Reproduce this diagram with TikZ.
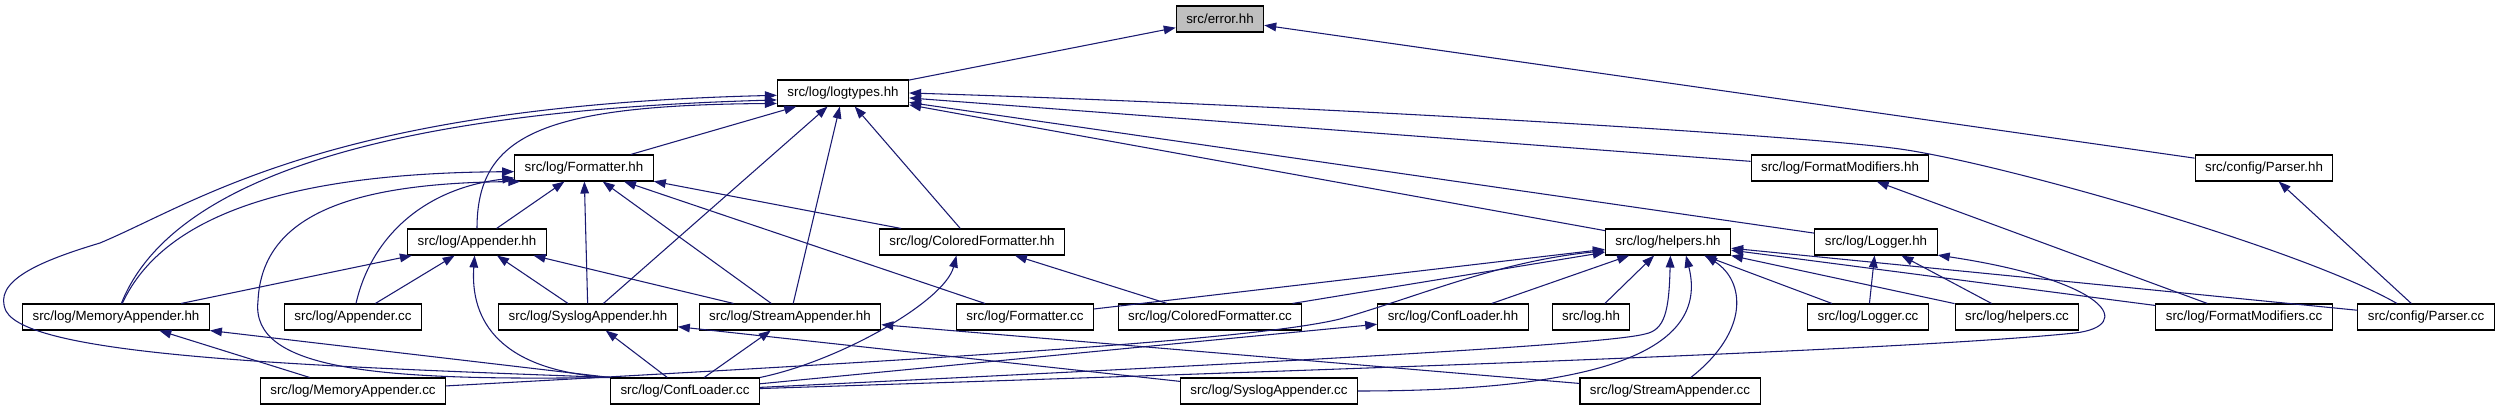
\documentclass[tikz,border=0pt]{standalone}
\usepackage{fontspec}
\setmainfont{Liberation Sans}
\usetikzlibrary{arrows.meta}

\definecolor{edgeblue}{HTML}{191970}
\definecolor{rootgray}{HTML}{BFBFBF}

\tikzset{
	file/.style={draw=black, line width=0.8pt, fill=white, minimum height=19.5pt,
		inner xsep=7.5pt, inner ysep=0pt, font=\fontsize{10pt}{12pt}\selectfont},
	root/.style={file, fill=rootgray},
	incl/.style={draw=edgeblue, line width=0.8pt, -{Triangle[length=9pt, width=6.5pt]}}
}

\begin{document}
\begin{tikzpicture}[x=0.75pt, y=0.75pt]
	\useasboundingbox (0,0) rectangle (2502,411);

	% Headers
	\node[root] (err)      at (1220, 392) {src/error.hh};
	\node[file] (logtypes) at (843, 318)  {src/log/logtypes.hh};
	\node[file] (fmtH)     at (584, 243)  {src/log/Formatter.hh};
	\node[file] (fmodH)    at (1840, 243) {src/log/FormatModifiers.hh};
	\node[file] (parserH)  at (2264, 243) {src/config/Parser.hh};
	\node[file] (appH)     at (477, 169)  {src/log/Appender.hh};
	\node[file] (cfmtH)    at (972, 169)  {src/log/ColoredFormatter.hh};
	\node[file] (helpH)    at (1668, 169) {src/log/helpers.hh};
	\node[file] (loggerH)  at (1876, 169) {src/log/Logger.hh};
	\node[file] (memH)     at (116, 94)   {src/log/MemoryAppender.hh};
	\node[file] (sysH)     at (588, 94)   {src/log/SyslogAppender.hh};
	\node[file] (strH)     at (790, 94)   {src/log/StreamAppender.hh};
	\node[file] (confH)    at (1453, 94)  {src/log/ConfLoader.hh};
	\node[file] (logH)     at (1591, 94)  {src/log.hh};

	% Sources
	\node[file] (appCC)    at (353, 94)   {src/log/Appender.cc};
	\node[file] (fmtCC)    at (1025, 94)  {src/log/Formatter.cc};
	\node[file] (cfmtCC)   at (1210, 94)  {src/log/ColoredFormatter.cc};
	\node[file] (loggerCC) at (1868, 94)  {src/log/Logger.cc};
	\node[file] (helpCC)   at (2017, 94)  {src/log/helpers.cc};
	\node[file] (fmodCC)   at (2244, 94)  {src/log/FormatModifiers.cc};
	\node[file] (parserCC) at (2426, 94)  {src/config/Parser.cc};
	\node[file] (memCC)    at (353, 20)   {src/log/MemoryAppender.cc};
	\node[file] (confCC)   at (685, 20)   {src/log/ConfLoader.cc};
	\node[file] (sysCC)    at (1269, 20)  {src/log/SyslogAppender.cc};
	\node[file] (strCC)    at (1670, 20)  {src/log/StreamAppender.cc};

	% Connections to error.hh
	\draw[incl] (logtypes) -- (err);
	\draw[incl] (parserH) -- (err);

	% Connections to logtypes.hh
	\draw[incl] (fmtH) -- (logtypes);
	\draw[incl] (appH) .. controls (477,275) and (540,306) .. (logtypes.189);
	\draw[incl] (memH) .. controls (170,230) and (380,300) .. (logtypes.186);
	\draw[incl] (confCC.north west) .. controls (300,45) and (30,55) .. (6,100)
		.. controls (-8,130) and (40,150) .. (100,168)
		.. controls (200,210) and (330,305) .. (logtypes.182);
	\draw[incl] (sysH) -- (logtypes);
	\draw[incl] (strH) -- (logtypes);
	\draw[incl] (cfmtH) -- (logtypes);
	\draw[incl] (helpH) -- (logtypes);
	\draw[incl] (loggerH) -- (logtypes);
	\draw[incl] (fmodH) -- (logtypes);
	\draw[incl] (parserCC.155) .. controls (2300,163) and (2000,248) .. (1900,262)
		.. controls (1800,276) and (1300,306) .. (logtypes.east);

	% Connections to Formatter.hh
	\draw[incl] (appH) -- (fmtH);
	\draw[incl] (memH) .. controls (165,200) and (300,238) .. (fmtH.183);
	\draw[incl] (appCC) .. controls (370,170) and (420,222) .. (fmtH.188);
	\draw[incl] (confCC.north west) .. controls (380,30) and (250,40) .. (258,110)
		.. controls (262,200) and (360,228) .. (fmtH.192);
	\draw[incl] (sysH) -- (fmtH);
	\draw[incl] (strH) -- (fmtH);
	\draw[incl] (fmtCC) -- (fmtH);
	\draw[incl] (cfmtH) -- (fmtH);

	% Connections to FormatModifiers.hh and config/Parser.hh
	\draw[incl] (fmodCC) -- (fmodH);
	\draw[incl] (parserCC) -- (parserH);

	% Connections to Appender.hh
	\draw[incl] (memH) -- (appH);
	\draw[incl] (appCC) -- (appH);
	\draw[incl] (confCC.north west) .. controls (500,40) and (470,90) .. (appH.260);
	\draw[incl] (sysH) -- (appH);
	\draw[incl] (strH) -- (appH);

	% Connections to ColoredFormatter.hh
	\draw[incl] (confCC.north east) .. controls (840,50) and (945,110) .. (cfmtH.221);
	\draw[incl] (cfmtCC) -- (cfmtH);

	% Connections to helpers.hh
	\draw[incl] (fmtCC) -- (helpH);
	\draw[incl] (cfmtCC) -- (helpH);
	\draw[incl] (memCC) .. controls (900,50) and (1250,70) .. (1340,92)
		.. controls (1420,115) and (1500,150) .. (helpH.188);
	\draw[incl] (confH) -- (helpH);
	\draw[incl] (logH) -- (helpH);
	\draw[incl] (confCC) .. controls (1200,45) and (1600,65) .. (1645,77)
		.. controls (1665,81) and (1669,100) .. (helpH.280);
	\draw[incl] (sysCC) .. controls (1600,20) and (1710,60) .. (helpH.-37);
	\draw[incl] (strCC.33) .. controls (1750,80) and (1745,130) .. (helpH.-20);
	\draw[incl] (loggerCC) -- (helpH);
	\draw[incl] (helpCC) -- (helpH);
	\draw[incl] (fmodCC) -- (helpH);
	\draw[incl] (parserCC) -- (helpH);

	% Connections to Logger.hh
	\draw[incl] (loggerCC) -- (loggerH);
	\draw[incl] (helpCC) -- (loggerH);
	\draw[incl] (confCC) .. controls (1300,40) and (1900,60) .. (2075,78)
		.. controls (2135,85) and (2110,130) .. (loggerH.-12);

	% Connections to the appender headers and ConfLoader.hh
	\draw[incl] (memCC) -- (memH);
	\draw[incl] (confCC.north west) -- (memH.south east);
	\draw[incl] (confCC) -- (sysH);
	\draw[incl] (sysCC) -- (sysH);
	\draw[incl] (confCC) -- (strH);
	\draw[incl] (strCC) -- (strH);
	\draw[incl] (confCC) -- (confH);
\end{tikzpicture}
\end{document}
